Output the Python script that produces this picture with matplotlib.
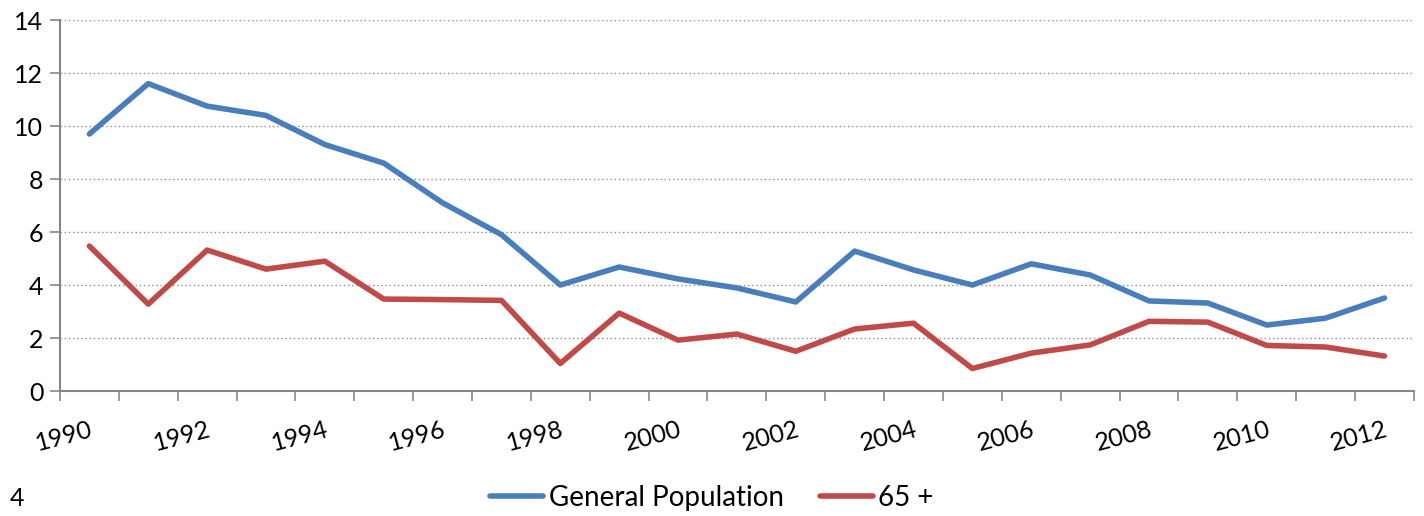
import numpy as np
import matplotlib.pyplot as plt
from matplotlib.ticker import FixedLocator, NullFormatter

plt.rcParams["font.family"] = ["Lato", "DejaVu Sans"]

years = list(range(1990, 2013))

general_population = [
    9.7, 11.6, 10.75, 10.4, 9.3, 8.6, 7.1, 5.9, 4.0, 4.68, 4.23, 3.89,
    3.36, 5.28, 4.57, 4.0, 4.8, 4.38, 3.4, 3.32, 2.49, 2.75, 3.51,
]

over_65 = [
    5.47, 3.28, 5.32, 4.6, 4.9, 3.47, 3.45, 3.42, 1.04, 2.94, 1.92, 2.15,
    1.5, 2.34, 2.56, 0.85, 1.43, 1.74, 2.63, 2.6, 1.72, 1.66, 1.32,
]

series_names = ["General Population", "65 +"]

BLUE = "#4a7ebb"
RED = "#be4b48"
GREY = "#868686"

fig = plt.figure(
    figsize=(14.24, 5.16),
    dpi=100,
)

ax = fig.add_axes([0.0421, 0.2422, 0.9508, 0.719])

x = np.arange(len(years))

ax.plot(
    x,
    general_population,
    color=BLUE,
    linewidth=4.0,
    solid_capstyle="round",
    label=series_names[0],
)

ax.plot(
    x,
    over_65,
    color=RED,
    linewidth=4.0,
    solid_capstyle="round",
    label=series_names[1],
)

ax.set_xlim(-0.5, len(years) - 0.5)
ax.set_ylim(0, 14)

# y axis
ax.set_yticks(np.arange(0, 15, 2))
ax.tick_params(
    axis="y",
    length=7,
    width=1.2,
    color=GREY,
    labelsize=18,
    pad=5,
)
for yv in range(2, 15, 2):
    ax.axhline(yv, color="#8c8c8c", linewidth=1.0, linestyle=(0, (1, 2)), zorder=0)

# x axis: ticks at category boundaries, labels every other year
ax.xaxis.set_major_locator(FixedLocator(np.arange(-0.5, len(years), 1.0)))
ax.xaxis.set_major_formatter(NullFormatter())
ax.tick_params(axis="x", which="major", length=7, width=1.2, color=GREY)

label_pos = x[::2]
ax.xaxis.set_minor_locator(FixedLocator(label_pos))
ax.set_xticklabels([str(years[i]) for i in label_pos], minor=True)
ax.tick_params(axis="x", which="minor", length=0, labelsize=18, pad=19)
for lbl in ax.get_xticklabels(minor=True):
    lbl.set_rotation(15)
    lbl.set_ha("right")
    lbl.set_rotation_mode("anchor")

for side in ["top", "right"]:
    ax.spines[side].set_visible(False)
for side in ["left", "bottom"]:
    ax.spines[side].set_color(GREY)
    ax.spines[side].set_linewidth(1.5)

fig.legend(
    loc="center",
    bbox_to_anchor=(0.5, 0.035),
    ncol=2,
    frameon=False,
    fontsize=20,
    handlelength=1.9,
    handletextpad=0.2,
    columnspacing=1.3,
)

fig.text(0.007, 0.02, "4", fontsize=18)

fig.savefig("out.png", dpi=100)
plt.close()
